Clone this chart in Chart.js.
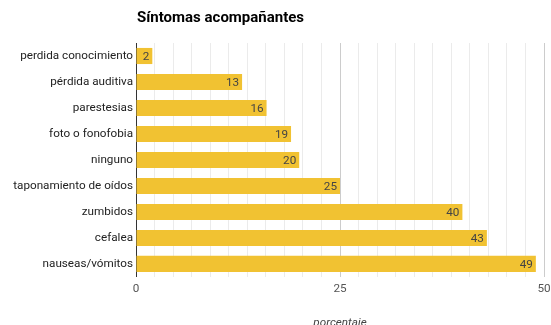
<!DOCTYPE html>
<html>
<head>
<meta charset="utf-8">
<script src="https://cdn.jsdelivr.net/npm/chart.js@4.4.0/dist/chart.umd.min.js"></script>
<style>
  html, body { margin: 0; padding: 0; background: #fff; }
  #wrap { width: 551px; height: 325px; }
</style>
</head>
<body>
<div id="wrap"><canvas id="mycanvas"></canvas></div>
<script>
var categorias = ["perdida conocimiento", "pérdida auditiva", "parestesias", "foto o fonofobia",
    "ninguno", "taponamiento de oídos", "zumbidos", "cefalea", "nauseas/vómitos"];
var porcentaje = [2, 13, 16, 19, 20, 25, 40, 43, 49];
var marcas = [0, 25, 50];

// lineas de la rejilla: 11 divisiones entre cada marca
var divisiones = 11;
var lineas = [];
for (var i = 0; i <= divisiones * (marcas.length - 1); i++) {
    lineas.push(i * 25 / divisiones);
}

var titulo = {
    id: 'titulo',
    afterDraw: function(chart) {
        var ctx = chart.ctx;
        ctx.save();
        ctx.font = 'bold 15px Roboto';
        ctx.fillStyle = '#000';
        ctx.textAlign = 'left';
        ctx.textBaseline = 'middle';
        ctx.fillText('Síntomas acompañantes', chart.chartArea.left + 1, 18);
        ctx.restore();
    }
};

var etiquetas = {
    id: 'etiquetas',
    afterDatasetsDraw: function(chart) {
        var ctx = chart.ctx;
        var meta = chart.getDatasetMeta(0);
        ctx.save();
        ctx.font = '11.7px Roboto';
        ctx.fillStyle = '#444';
        ctx.textAlign = 'right';
        ctx.textBaseline = 'middle';
        meta.data.forEach(function(bar, i) {
            ctx.fillText(porcentaje[i], bar.x - 3, bar.y + 1);
        });
        ctx.restore();
    }
};

var ctx = document.getElementById('mycanvas');
new Chart(ctx, {
    type: 'bar',
    data: {
        labels: categorias,
        datasets: [{
            label: 'porcentaje',
            data: porcentaje,
            backgroundColor: '#f1c232',
            borderWidth: 0,
            categoryPercentage: 1,
            barPercentage: 0.62
        }]
    },
    options: {
        indexAxis: 'y',
        responsive: true,
        maintainAspectRatio: false,
        animation: false,
        layout: { padding: { top: 43, right: 7, left: 0, bottom: 0 } },
        plugins: {
            legend: { display: false },
            tooltip: { enabled: false }
        },
        scales: {
            x: {
                min: 0,
                max: 50,
                afterBuildTicks: function(scale) {
                    scale.ticks = lineas.map(function(v) { return { value: v }; });
                },
                afterFit: function(scale) {
                    scale.paddingRight = 0;
                    scale.paddingLeft = 0;
                },
                grid: {
                    drawTicks: false,
                    color: function(c) {
                        return c.index % divisiones === 0 ? '#cccccc' : '#ebebeb';
                    }
                },
                border: { display: false },
                ticks: {
                    autoSkip: false,
                    maxRotation: 0,
                    padding: 5,
                    color: '#555',
                    font: { family: 'Roboto', size: 11.7 },
                    callback: function(v, i) {
                        return i % divisiones === 0 ? marcas[i / divisiones] : '';
                    }
                },
                title: {
                    display: true,
                    text: 'porcentaje',
                    color: '#444',
                    font: { family: 'Roboto', size: 11.7, style: 'italic' },
                    padding: { top: 15, bottom: -5 }
                }
            },
            y: {
                afterFit: function(scale) { scale.width = 136; },
                grid: { display: false, drawTicks: false },
                border: { display: true, color: '#333', width: 1 },
                ticks: {
                    padding: 3,
                    color: '#222',
                    font: { family: 'Roboto', size: 11.7 }
                }
            }
        }
    },
    plugins: [titulo, etiquetas]
});
</script>
</body>
</html>
